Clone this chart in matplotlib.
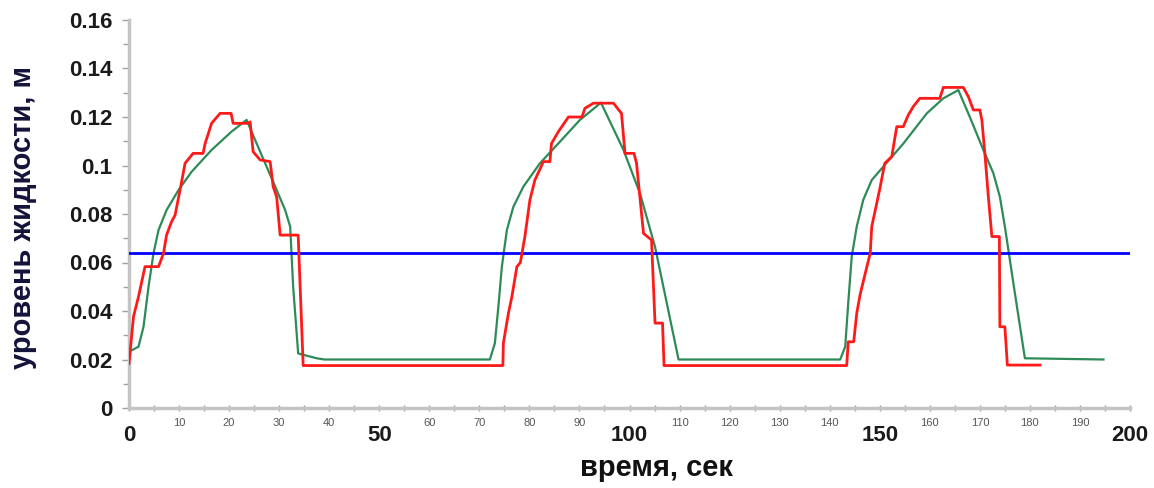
import matplotlib
matplotlib.use("Agg")
import matplotlib.pyplot as plt
from matplotlib.ticker import MultipleLocator, FixedLocator, FuncFormatter

# ---- data ----
setpoint_level = 0.064
setpoint_t = [0, 200]

red_t = [0, 0.9, 1.9, 3.2, 5.9, 6.9, 7.5, 8.5, 9.2, 10.2, 11.2, 12.8, 14.8, 15.2, 16.5, 18.2, 20.4,
         20.8, 23.8, 24.2, 24.8, 26.2, 28.2, 28.8, 29.5, 30.2, 33.8, 34.8, 74.7,
         74.8, 75.8, 76.5, 77.5, 78.2, 79.1, 80.1, 81.1, 82.8, 84.1, 84.4, 85.8, 87.8, 90.5, 91.1,
         92.8, 96.8, 98.4, 99.1, 100.9, 101.4, 102.8, 104.4, 105.1, 106.6, 106.9, 143.4,
         143.7, 144.8, 145.4, 146.1, 147.1, 148.1, 148.4, 149.4, 150.1, 151.0, 152.4, 153.4, 154.7,
         155.7, 156.7, 158.0, 162.0, 162.7, 166.7, 167.7, 168.7, 170.0, 170.4, 171.0, 171.7, 172.4,
         173.9, 174.0, 175.0, 175.5, 182.0]
red_y = [0.0184, 0.0377, 0.0459, 0.0583, 0.0583, 0.0638, 0.0713, 0.0768, 0.0795, 0.0899, 0.1009,
         0.105, 0.105, 0.109, 0.1174, 0.1215, 0.1215, 0.1174, 0.1174, 0.118, 0.1057, 0.1023, 0.1016,
         0.0913, 0.0871, 0.0713, 0.0713, 0.0175, 0.0175,
         0.0267, 0.039, 0.0459, 0.0583, 0.060, 0.0707, 0.0858, 0.094, 0.1016, 0.1016, 0.109, 0.114,
         0.120, 0.120, 0.1236, 0.1257, 0.1257, 0.1215, 0.105, 0.105, 0.101, 0.072, 0.0693, 0.035,
         0.035, 0.0175, 0.0175,
         0.0273, 0.0273, 0.039, 0.047, 0.0555, 0.0638, 0.0748, 0.0844, 0.0913, 0.1009, 0.1037, 0.116,
         0.116, 0.1208, 0.1243, 0.1277, 0.1277, 0.1322, 0.1322, 0.1284, 0.1229, 0.1229, 0.1188, 0.105,
         0.0871, 0.0707, 0.0707, 0.0335, 0.0335, 0.0177, 0.0177]

green_t = [0, 1.9, 2.9, 3.9, 4.9, 5.9, 7.5, 9.9, 12.5, 16.5, 20.5, 23.5, 25.2, 27.5, 29.5, 31.2,
           32.2, 32.8, 33.8, 37.5, 39.0, 72.1,
           73.1, 73.8, 74.5, 75.5, 76.8, 78.8, 82.1, 86.1, 90.1, 94.3, 98.8, 102.1, 105.1, 109.8,
           142.1,
           143.1, 143.7, 144.4, 145.4, 146.7, 148.4, 150.7, 154.7, 159.4, 162.7, 165.7, 168.0, 170.7,
           172.7, 174.0, 175.0, 176.7, 179.0, 194.7]
green_y = [0.0232, 0.0253, 0.0335, 0.050, 0.0638, 0.0734, 0.0816, 0.0899, 0.0974, 0.1064, 0.114,
           0.1188, 0.1105, 0.0995, 0.0899, 0.0816, 0.0748, 0.050, 0.0225, 0.0205, 0.020, 0.020,
           0.0267, 0.0418, 0.0583, 0.0734, 0.083, 0.0913, 0.1009, 0.1098, 0.1188, 0.1259, 0.1064,
           0.0885, 0.0665, 0.020, 0.020,
           0.0253, 0.0432, 0.0624, 0.0748, 0.0858, 0.094, 0.0995, 0.109, 0.1215, 0.1277, 0.1311,
           0.120, 0.1064, 0.0968, 0.0871, 0.0748, 0.0514, 0.0205, 0.020]

x_major = [0, 50, 100, 150, 200]
y_ticks = [0, 0.02, 0.04, 0.06, 0.08, 0.1, 0.12, 0.14, 0.16]
x_label = "время, сек"
y_label = "уровень жидкости, м"

# ---- figure ----
plt.rcParams['font.family'] = ['Liberation Sans', 'DejaVu Sans']
fig = plt.figure(figsize=(11.54, 4.88), dpi=100)
ax = fig.add_axes([129 / 1154, 1 - 408 / 488, (1130 - 129) / 1154, (408 - 20) / 488])

ax.plot(setpoint_t, [setpoint_level] * len(setpoint_t), color='#0000ff', lw=2.0, zorder=3)
ax.plot(green_t, green_y, color='#2e8b57', lw=1.6, zorder=2)
ax.plot(red_t, red_y, color='#ff1a1a', lw=2.0, zorder=4)

ax.set_xlim(0, 200)
ax.set_ylim(0, 0.16)

for s in ['top', 'right']:
    ax.spines[s].set_visible(False)
for s in ['left', 'bottom']:
    ax.spines[s].set_color('#c4c4c4')
    ax.spines[s].set_linewidth(2.5)

ax.xaxis.set_major_locator(FixedLocator(x_major))
ax.xaxis.set_major_formatter(FuncFormatter(lambda v, p: f"{v:g}"))
ax.xaxis.set_minor_locator(MultipleLocator(5))
ax.xaxis.set_minor_formatter(FuncFormatter(
    lambda v, p: (f"{int(round(v))}" if round(v) % 10 == 0 and round(v) % 50 != 0 else "")))

ax.yaxis.set_major_locator(FixedLocator(y_ticks))
ax.yaxis.set_major_formatter(FuncFormatter(lambda v, p: f"{v:g}"))
ax.yaxis.set_minor_locator(MultipleLocator(0.01))

ax.tick_params(axis='x', which='major', direction='inout', length=5, width=1, color='#a0a0a0',
               labelsize=16, pad=10, labelcolor='#1a1a1a')
ax.tick_params(axis='x', which='minor', direction='inout', length=4, width=1, color='#a0a0a0',
               labelsize=8, pad=5, labelcolor='#555555')
ax.tick_params(axis='y', which='major', direction='out', length=5, width=1, color='#a0a0a0',
               labelsize=16, pad=7, labelcolor='#1a1a1a')
ax.tick_params(axis='y', which='minor', direction='out', length=4, width=1, color='#a0a0a0')
for lbl in ax.get_xticklabels() + ax.get_yticklabels():
    lbl.set_fontweight('bold')

ax.set_xlabel(x_label, fontsize=21, fontweight='bold', color='#111111')
ax.xaxis.set_label_coords(0.527, -0.118)
ax.set_ylabel(y_label, fontsize=21, fontweight='bold', color='#14143a')
ax.yaxis.set_label_coords(-0.092, 0.49)

fig.savefig("out.png", dpi=100)
